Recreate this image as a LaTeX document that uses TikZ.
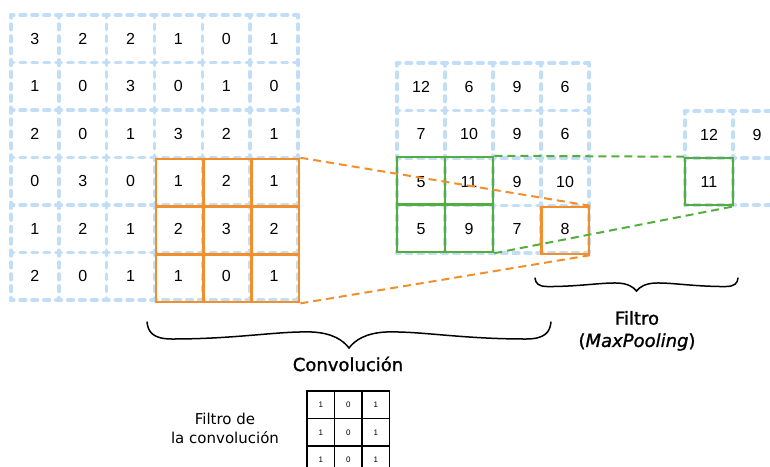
\documentclass[tikz,border=0pt]{standalone}
\usepackage{fontspec}
\setmainfont{DejaVu Sans}
\newfontfamily\numfont{Liberation Sans}
\newfontfamily\medfont{DejaVu Sans}[FakeBold=1.2]
\definecolor{cblue}{RGB}{194,222,246}
\definecolor{corange}{RGB}{242,143,44}
\definecolor{cgreen}{RGB}{84,174,62}
\definecolor{txt}{RGB}{0,0,0}
\begin{document}
\begin{tikzpicture}[x=1pt,y=-1pt,
  bgrid/.style={draw=cblue, line width=3.6pt, line cap=round, dash pattern=on 5.6pt off 6.3pt, dash phase=2.8pt},
  val/.style={inner sep=0pt, text=txt, font=\numfont\fontsize{16}{16}\selectfont},
  ocell/.style={draw=corange, line width=2.5pt, minimum width=47.7pt, minimum height=47.7pt, inner sep=0pt},
  gcell/.style={draw=cgreen, line width=2.5pt, minimum width=48pt, minimum height=47.5pt, inner sep=0pt},
  odash/.style={draw=corange, line width=2pt, dash pattern=on 8pt off 5pt},
  gdash/.style={draw=cgreen, line width=2pt, dash pattern=on 8pt off 5pt},
  fcell/.style={draw=txt, line width=1.3pt, minimum size=27.5pt, inner sep=0pt, text=txt,
    font=\numfont\fontsize{8}{8}\selectfont},
  bigtxt/.style={text=txt, font=\medfont\fontsize{18}{18}\selectfont},
  bracepath/.style={draw=txt, line width=1.5pt, line cap=round}
]
\useasboundingbox (0,0) rectangle (770,466);
\clip (0,0) rectangle (770,466);

% ---------- left input grid (x 11..298, y 15..300)
\foreach \i in {0,...,6} {
  \draw[bgrid] (11,{15+47.5*\i}) -- (298,{15+47.5*\i});
  \draw[bgrid] ({11+47.83*\i},15) -- ({11+47.83*\i},300);
}
\foreach \row [count=\r] in {{3,2,2,1,0,1},{1,0,3,0,1,0},{2,0,1,3,2,1},{0,3,0,1,2,1},{1,2,1,2,3,2},{2,0,1,1,0,1}} {
  \foreach \v [count=\c] in \row {
    \node[val] (L-\r-\c) at ({11+47.83*(\c-0.5)},{15+47.5*(\r-0.5)}) {\v};
  }
}
% orange window (x 156..299, y 159..303)
\foreach \r in {1,2,3} {
  \foreach \c in {1,2,3} {
    \node[ocell] (O-\r-\c) at ({156+47.7*(\c-0.5)},{159+47.7*(\r-0.5)}) {};
  }
}

% ---------- middle feature map (x 397..589, y 63..253)
\foreach \i in {0,...,4} {
  \draw[bgrid] (397,{63+47.5*\i}) -- (589,{63+47.5*\i});
  \draw[bgrid] ({397+48*\i},63) -- ({397+48*\i},253);
}
\foreach \row [count=\r] in {{12,6,9,6},{7,10,9,6},{5,11,9,10},{5,9,7,8}} {
  \foreach \v [count=\c] in \row {
    \node[val] (M-\r-\c) at ({397+48*(\c-0.5)},{63+47.5*(\r-0.5)}) {\v};
  }
}
\foreach \r in {1,2} {
  \foreach \c in {1,2} {
    \node[gcell] (G-\r-\c) at ({397+48*(\c-0.5)},{157+47.5*(\r-0.5)}) {};
  }
}
\node[ocell, minimum width=47.5pt, minimum height=47pt] (MO) at (565,230.5) {};

% ---------- right pooled map (x 685.., y 111..205)
\foreach \i in {0,1,2} {
  \draw[bgrid] (685,{111+47*\i}) -- (781,{111+47*\i});
}
\foreach \i in {0,1,2} {
  \draw[bgrid] ({685+48*\i},111) -- ({685+48*\i},205);
}
\node[val] (R-1-1) at (709,134.5) {12};
\node[val] (R-1-2) at (757,134.5) {9};
\node[val] (R-2-1) at (709,181.5) {11};
\node[gcell, minimum height=47pt] (RG) at (709,181.5) {};

% ---------- connectors
\draw[odash] (O-1-3.north east) -- (MO.north east);
\draw[odash] (O-3-3.south east) -- (MO.south east);
\draw[gdash] (G-1-2.north east) -- (RG.north west);
\draw[gdash] (G-2-2.south east) -- (RG.south east);

% ---------- braces
\begin{scope}[shift={(147,322)}]
\draw[bracepath] (0,0) .. controls (1,10) and (6,17) .. (25,17)
  .. controls (90,17) and (130,9) .. (165,10)
  .. controls (185,11) and (196,18) .. (202,26)
  .. controls (208,18) and (219,11) .. (239,10)
  .. controls (274,9) and (314,17) .. (379,17)
  .. controls (398,17) and (403,10) .. (404,0);
\end{scope}
\begin{scope}[shift={(535,278)}, scale=0.5025]
\draw[bracepath] (0,0) .. controls (1,10) and (6,17) .. (25,17)
  .. controls (90,17) and (130,9) .. (165,10)
  .. controls (185,11) and (196,18) .. (202,26)
  .. controls (208,18) and (219,11) .. (239,10)
  .. controls (274,9) and (314,17) .. (379,17)
  .. controls (398,17) and (403,10) .. (404,0);
\end{scope}

% ---------- labels
\node[bigtxt] (conv) at (348,364) {Convolución};
\node[bigtxt] (filtro) at (637,318) {Filtro};
\node[bigtxt] (maxp) at (637,342) {(\textit{MaxPooling})};
\node[text=txt, align=center, font=\fontsize{15}{19}\selectfont] (flab) at (225,428.5) {Filtro de\\la convolución};

% ---------- convolution filter
\foreach \row [count=\r] in {{1,0,1},{1,0,1},{1,0,1}} {
  \foreach \v [count=\c] in \row {
    \node[fcell] (F-\r-\c) at ({320.75+27.5*(\c-1)},{404.75+27.5*(\r-1)}) {\v};
  }
}
\end{tikzpicture}
\end{document}
